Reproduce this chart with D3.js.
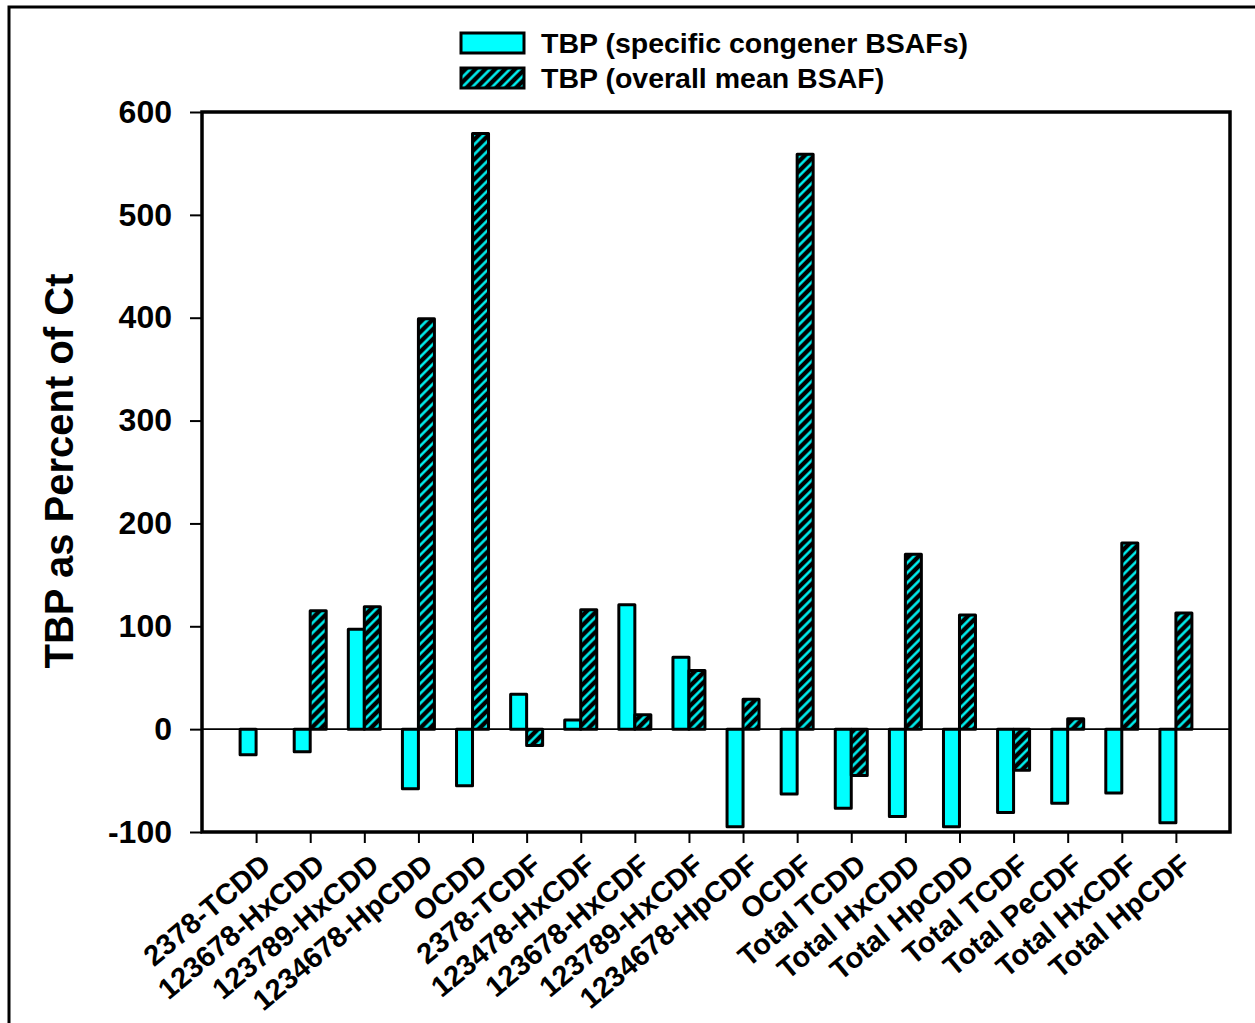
<!DOCTYPE html>
<html>
<head>
<meta charset="utf-8">
<script src="https://cdn.jsdelivr.net/npm/d3@7"></script>
<style>
  html, body { margin: 0; padding: 0; background: #fff; }
  svg { display: block; font-family: "Liberation Sans", Arial, sans-serif; }
</style>
</head>
<body>
<svg id="chart" width="1255" height="1023"></svg>
<script>
// Congener / homologue groups along the x axis
const categories = [
  "2378-TCDD", "123678-HxCDD", "123789-HxCDD", "1234678-HpCDD", "OCDD",
  "2378-TCDF", "123478-HxCDF", "123678-HxCDF", "123789-HxCDF", "1234678-HpCDF",
  "OCDF", "Total TCDD", "Total HxCDD", "Total HpCDD", "Total TCDF",
  "Total PeCDF", "Total HxCDF", "Total HpCDF"
];

// TBP as percent of Ct, using congener-specific BSAFs
const specificBSAF = [
  -25, -22, 97, -58, -55,
  34, 9, 121, 70, -95,
  -63, -77, -85, -95, -81,
  -72, -62, -91
];

// TBP as percent of Ct, using the overall mean BSAF
const overallBSAF = [
  0, 115, 119, 399, 579,
  -16, 116, 14, 57, 29,
  559, -45, 170, 111, -40,
  10, 181, 113
];

const yTicks = [-100, 0, 100, 200, 300, 400, 500, 600];

const seriesNames = ["TBP (specific congener BSAFs)", "TBP (overall mean BSAF)"];

const svg = d3.select("#chart");
const plot = { left: 202, right: 1230, top: 112, bottom: 832 };

// hatch fill: cyan diagonal strokes on black
const defs = svg.append("defs");
const pat = defs.append("pattern")
  .attr("id", "hatch")
  .attr("patternUnits", "userSpaceOnUse")
  .attr("width", 7).attr("height", 7)
  .attr("patternTransform", "rotate(45)");
pat.append("rect").attr("width", 7).attr("height", 7).attr("fill", "#000");
pat.append("line")
  .attr("x1", 3.5).attr("y1", 0).attr("x2", 3.5).attr("y2", 7)
  .attr("stroke", "#00ffff").attr("stroke-width", 2.4);

// page frame
svg.append("path")
  .attr("d", "M9,1023 V7 H1255")
  .attr("fill", "none").attr("stroke", "#000").attr("stroke-width", 3);

const x = d3.scalePoint().domain(categories)
  .range([plot.left, plot.right]).padding(1);
const y = d3.scaleLinear().domain([-100, 600])
  .range([plot.bottom, plot.top]);

const bw = 16;

// zero reference line
svg.append("line")
  .attr("x1", plot.left).attr("x2", plot.right)
  .attr("y1", y(0)).attr("y2", y(0))
  .attr("stroke", "#000").attr("stroke-width", 1.6);

function drawBars(values, cls, fill, offset) {
  svg.append("g").attr("class", cls)
    .selectAll("rect").data(values).join("rect")
    .attr("x", (d, i) => x(categories[i]) + offset)
    .attr("width", bw)
    .attr("y", d => y(Math.max(0, d)))
    .attr("height", d => Math.abs(y(d) - y(0)))
    .attr("fill", fill)
    .attr("stroke", "#000")
    .attr("stroke-width", 3)
    .attr("stroke-linejoin", "round");
}
drawBars(specificBSAF, "specific", "#00ffff", -bw);
drawBars(overallBSAF, "overall", "url(#hatch)", 0);

// plot frame
svg.append("rect")
  .attr("x", plot.left).attr("y", plot.top)
  .attr("width", plot.right - plot.left)
  .attr("height", plot.bottom - plot.top)
  .attr("fill", "none").attr("stroke", "#000").attr("stroke-width", 3.5);

// y axis
const yAxis = svg.append("g")
  .attr("transform", `translate(${plot.left},0)`)
  .call(d3.axisLeft(y).tickValues(yTicks).tickSize(12).tickPadding(18)
    .tickFormat(d => String(d)));
yAxis.select(".domain").remove();
yAxis.selectAll(".tick line").attr("stroke", "#000").attr("stroke-width", 2);
yAxis.selectAll(".tick text")
  .attr("fill", "#000")
  .style("font-size", "32px").style("font-weight", "bold");

// x axis
const xAxis = svg.append("g")
  .attr("transform", `translate(0,${plot.bottom})`)
  .call(d3.axisBottom(x).tickSize(11).tickFormat(""));
xAxis.select(".domain").remove();
xAxis.selectAll(".tick line").attr("stroke", "#000").attr("stroke-width", 2);

svg.append("g").selectAll("text").data(categories).join("text")
  .attr("transform", d => `translate(${x(d) + 3},${plot.bottom + 20}) rotate(-40)`)
  .attr("text-anchor", "end")
  .attr("dy", "0.72em")
  .style("font-size", "29px").style("font-weight", "bold")
  .text(d => d);

// y axis title
svg.append("text")
  .attr("transform", "translate(73,471) rotate(-90)")
  .attr("text-anchor", "middle")
  .style("font-size", "40px").style("font-weight", "bold")
  .text("TBP as Percent of Ct");

// legend
const legend = svg.append("g");
const legendFills = ["#00ffff", "url(#hatch)"];
seriesNames.forEach((name, i) => {
  const ly = 33 + i * 35;
  legend.append("rect")
    .attr("x", 461).attr("y", ly).attr("width", 63).attr("height", 20)
    .attr("fill", legendFills[i]).attr("stroke", "#000").attr("stroke-width", 3);
  legend.append("text")
    .attr("x", 541).attr("y", ly + 20)
    .style("font-size", "28.5px").style("font-weight", "bold")
    .text(name);
});
</script>
</body>
</html>
